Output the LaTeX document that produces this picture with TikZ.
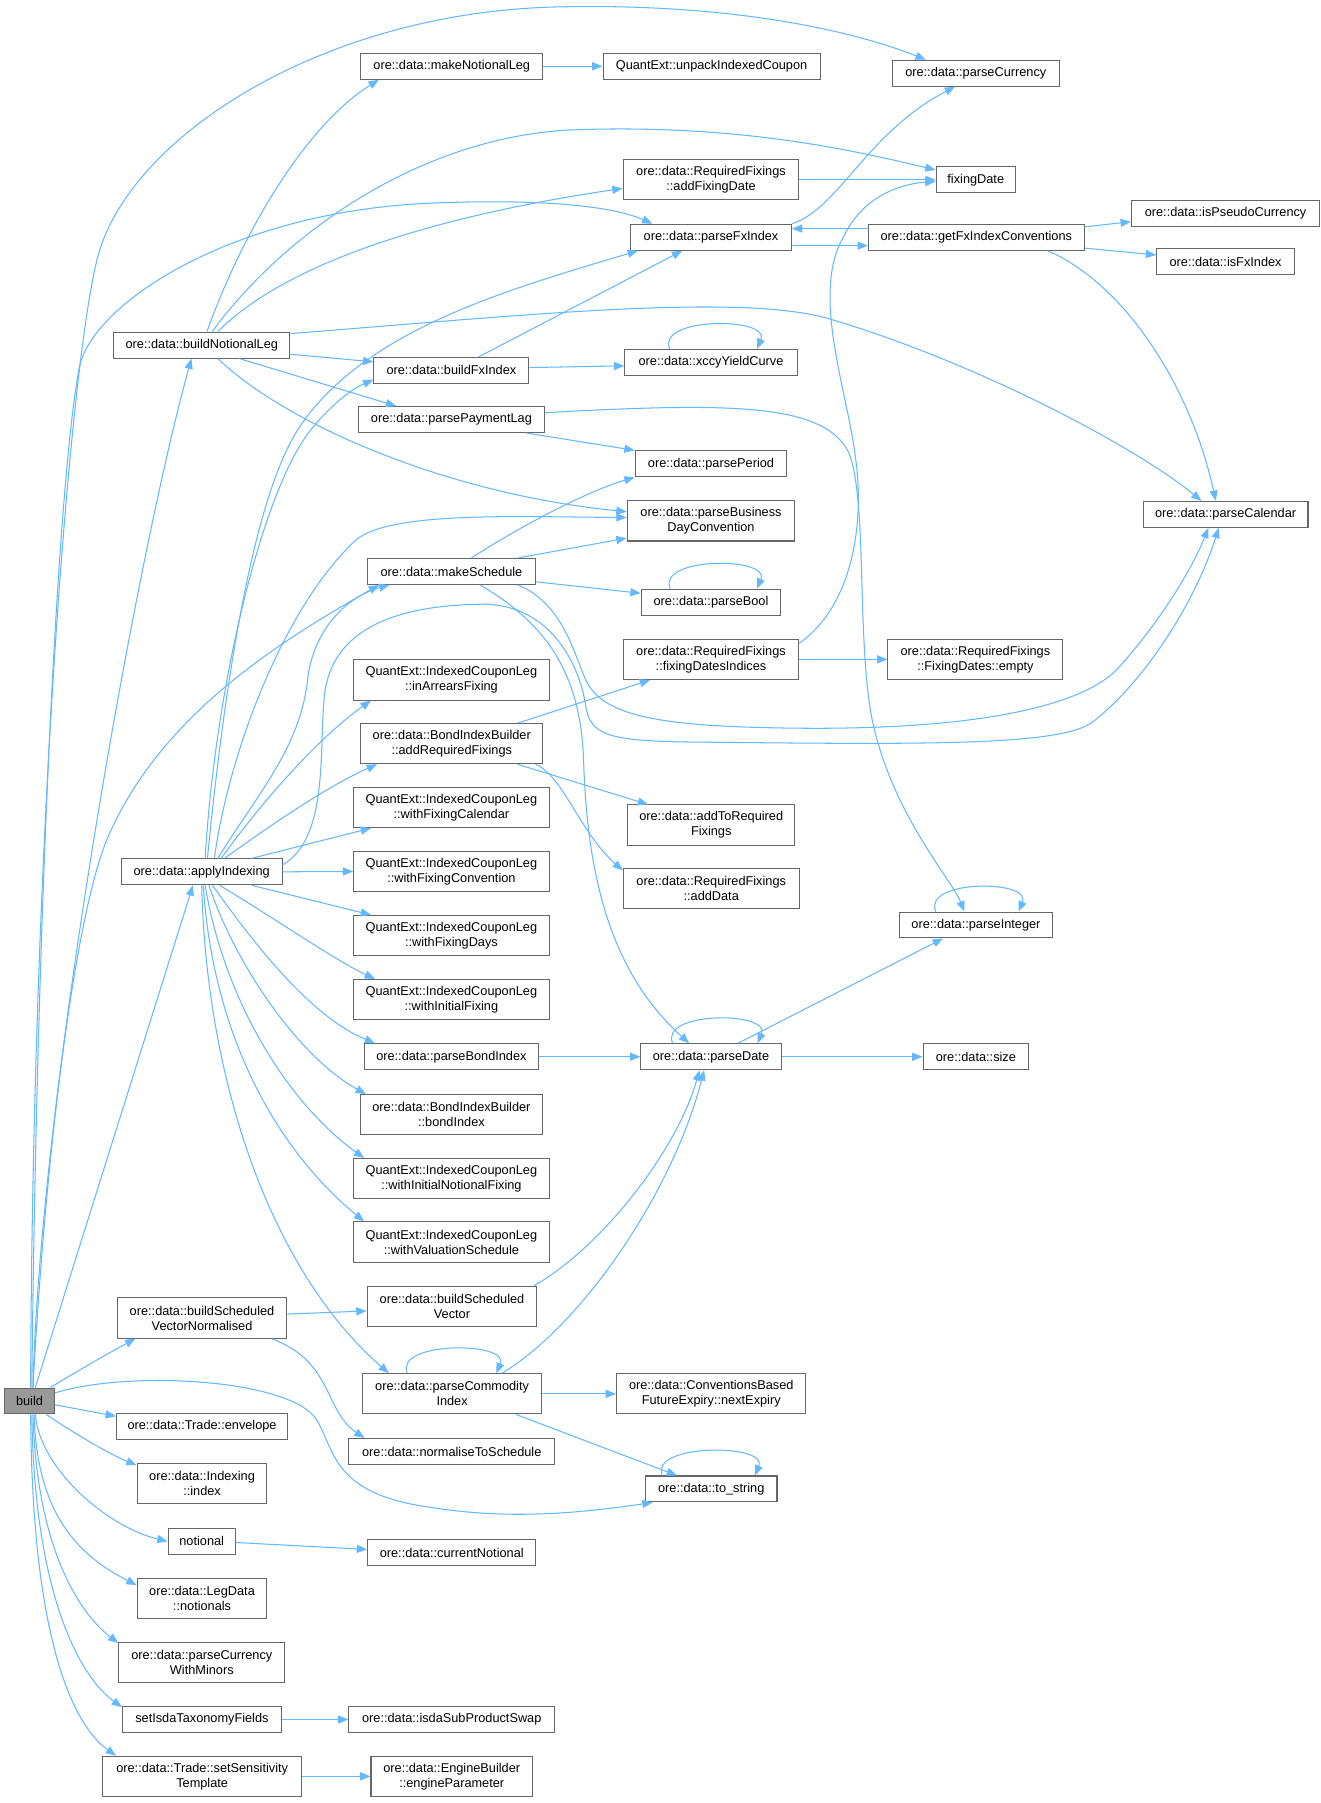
\documentclass[tikz,border=0pt]{standalone}
\usepackage{fontspec}
\setmainfont{Liberation Sans}
\usetikzlibrary{arrows.meta}
\definecolor{eblue}{HTML}{63B8FF}
\definecolor{bgray}{HTML}{666666}
\definecolor{rootfill}{HTML}{999999}
\begin{document}
\begin{tikzpicture}[x=1pt,y=-1pt,
 fnbox/.style={draw=bgray, line width=0.9pt, fill=white, inner sep=0pt, align=center, font=\fontsize{11.1}{13}\selectfont, minimum height=22.6pt},
 fnboxtall/.style={fnbox, minimum height=35pt},
 callline/.style={draw=eblue, line width=0.9pt, -{Triangle[length=9pt,width=7pt]}}]
\fill[white] (0,0) rectangle (1150,1569.7);
\useasboundingbox (0,0) rectangle (1150,1569.7);

% nodes
\node[fnbox, fill=rootfill, minimum width=43.5pt] (b) at (25.7,1219.7) {build};
\node[fnbox, minimum width=158.5pt] (mnl) at (393.3,57.7) {ore::data::makeNotionalLeg};
\node[fnbox, minimum width=189pt] (uic) at (619.5,57.7) {QuantExt::unpackIndexedCoupon};
\node[fnbox, minimum width=145pt] (pcur) at (849.5,63.7) {ore::data::parseCurrency};
\node[fnboxtall, minimum width=153pt] (afd) at (619,156.5) {ore::data::RequiredFixings\\::addFixingDate};
\node[fnbox, minimum width=69pt] (fd) at (849.5,156.5) {fixingDate};
\node[fnbox, minimum width=140pt] (pfx) at (619,206.5) {ore::data::parseFxIndex};
\node[fnbox, minimum width=188pt] (gfx) at (850,206.5) {ore::data::getFxIndexConventions};
\node[fnbox, minimum width=164pt] (ipc) at (1067,185.5) {ore::data::isPseudoCurrency};
\node[fnbox, minimum width=120pt] (ifx) at (1067,228) {ore::data::isFxIndex};
\node[fnbox, minimum width=153.5pt] (bnl) at (175.7,300.4) {ore::data::buildNotionalLeg};
\node[fnbox, minimum width=135pt] (bfx) at (393,322.5) {ore::data::buildFxIndex};
\node[fnbox, minimum width=150pt] (xyc) at (619,315.5) {ore::data::xccyYieldCurve};
\node[fnbox, minimum width=162.5pt] (ppl) at (393,365.3) {ore::data::parsePaymentLag};
\node[fnbox, minimum width=132pt] (pper) at (619,403.8) {ore::data::parsePeriod};
\node[fnboxtall, minimum width=146pt] (pbdc) at (619,453.5) {ore::data::parseBusiness\\DayConvention};
\node[fnbox, minimum width=143.5pt] (pcal) at (1067,447.8) {ore::data::parseCalendar};
\node[fnbox, minimum width=146pt] (ms) at (393,497.5) {ore::data::makeSchedule};
\node[fnbox, minimum width=121.5pt] (pbool) at (619,524.3) {ore::data::parseBool};
\node[fnboxtall, minimum width=153pt] (fdi) at (619,574) {ore::data::RequiredFixings\\::fixingDatesIndices};
\node[fnboxtall, minimum width=152.4pt] (fde) at (849.2,574) {ore::data::RequiredFixings\\::FixingDates::empty};
\node[fnboxtall, minimum width=170pt] (iaf) at (393,592) {QuantExt::IndexedCouponLeg\\::inArrearsFixing};
\node[fnboxtall, minimum width=158.6pt] (arf) at (393.3,647.5) {ore::data::BondIndexBuilder\\::addRequiredFixings};
\node[fnboxtall, minimum width=145.6pt] (atrf) at (619.2,718.3) {ore::data::addToRequired\\Fixings};
\node[fnboxtall, minimum width=170pt] (wfc) at (393,703) {QuantExt::IndexedCouponLeg\\::withFixingCalendar};
\node[fnbox, minimum width=140pt] (ai) at (175.6,759) {ore::data::applyIndexing};
\node[fnboxtall, minimum width=170pt] (wfconv) at (393,758.7) {QuantExt::IndexedCouponLeg\\::withFixingConvention};
\node[fnboxtall, minimum width=153pt] (ad) at (619.2,773.8) {ore::data::RequiredFixings\\::addData};
\node[fnbox, minimum width=133.4pt] (pint) at (849.7,805.3) {ore::data::parseInteger};
\node[fnboxtall, minimum width=170pt] (wfd) at (393,814.5) {QuantExt::IndexedCouponLeg\\::withFixingDays};
\node[fnboxtall, minimum width=170pt] (wif) at (393,870.3) {QuantExt::IndexedCouponLeg\\::withInitialFixing};
\node[fnbox, minimum width=152pt] (pbi) at (393,920) {ore::data::parseBondIndex};
\node[fnbox, minimum width=122pt] (pd) at (619,920) {ore::data::parseDate};
\node[fnbox, minimum width=92pt] (sz) at (849.6,920) {ore::data::size};
\node[fnboxtall, minimum width=158pt] (bi) at (393,970.5) {ore::data::BondIndexBuilder\\::bondIndex};
\node[fnboxtall, minimum width=170pt] (winf) at (393,1026.1) {QuantExt::IndexedCouponLeg\\::withInitialNotionalFixing};
\node[fnboxtall, minimum width=170pt] (wvs) at (393,1081.3) {QuantExt::IndexedCouponLeg\\::withValuationSchedule};
\node[fnboxtall, minimum width=147.7pt] (bsvn) at (175.9,1147.5) {ore::data::buildScheduled\\VectorNormalised};
\node[fnboxtall, minimum width=147.8pt] (bsv) at (393.5,1137.3) {ore::data::buildScheduled\\Vector};
\node[fnboxtall, minimum width=156pt] (pci) at (393.6,1213.5) {ore::data::parseCommodity\\Index};
\node[fnboxtall, minimum width=164.8pt] (nxe) at (619.2,1213.5) {ore::data::ConventionsBased\\FutureExpiry::nextExpiry};
\node[fnbox, minimum width=149pt] (env) at (175.9,1241.5) {ore::data::Trade::envelope};
\node[fnbox, minimum width=179pt] (nts) at (393.3,1263.7) {ore::data::normaliseToSchedule};
\node[fnboxtall, minimum width=113pt] (idx) at (175.9,1291.5) {ore::data::Indexing\\::index};
\node[fnbox, minimum width=114.5pt] (tos) at (619.2,1296.3) {ore::data::to\_string};
\node[fnbox, minimum width=58.4pt] (ntl) at (175.6,1341.9) {notional};
\node[fnbox, minimum width=146.6pt] (cn) at (393.3,1351.9) {ore::data::currentNotional};
\node[fnboxtall, minimum width=113pt] (lgn) at (175.9,1391.5) {ore::data::LegData\\::notionals};
\node[fnboxtall, minimum width=144.3pt] (pcwm) at (175.7,1447.5) {ore::data::parseCurrency\\WithMinors};
\node[fnbox, minimum width=138.4pt] (sitf) at (175.8,1497) {setIsdaTaxonomyFields};
\node[fnbox, minimum width=179pt] (isps) at (393.3,1497) {ore::data::isdaSubProductSwap};
\node[fnboxtall, minimum width=173.5pt] (sst) at (176,1546.5) {ore::data::Trade::setSensitivity\\Template};
\node[fnboxtall, minimum width=140.6pt] (ep) at (393.3,1546.5) {ore::data::EngineBuilder\\::engineParameter};

% edges from build
\draw[callline] ([xshift=1pt]b.north) .. controls (28,750) and (60,320) .. (85,224) .. controls (112,120) and (280,10) .. (487,6) .. controls (620,3) and (730,22) .. ([xshift=-43.5pt]pcur.north);
\draw[callline] ([xshift=2pt]b.north) .. controls (32,800) and (50,420) .. (69,320) .. controls (80,265) and (200,185) .. (372,177) .. controls (460,173) and (530,178) .. ([xshift=-51pt]pfx.north);
\draw[callline] ([xshift=3pt]b.north) .. controls (35,950) and (120,480) .. ([xshift=-9pt]bnl.south);
\draw[callline] ([xshift=5pt]b.north) -- ([xshift=-7.6pt]ai.south);
\draw[callline] ([xshift=3pt]b.north) .. controls (40,1000) and (65,800) .. (93,731) .. controls (140,620) and (250,555) .. ([xshift=-63pt]ms.south);
\draw[callline] ([xshift=-4pt]b.north east) .. controls (70,1192) and (100,1175) .. ([xshift=-58pt]bsvn.south);
\draw[callline] ([yshift=-3.3pt]b.east) -- ([yshift=8.5pt]env.west);
\draw[callline] ([yshift=7pt]b.east) .. controls (110,1193) and (250,1200) .. (275,1235) .. controls (292,1262) and (288,1300) .. (373,1312) .. controls (440,1323) and (500,1318) .. ([xshift=-51pt]tos.south);
\draw[callline] ([xshift=14.7pt]b.south) .. controls (60,1245) and (95,1266) .. ([yshift=-2pt]idx.north west);
\draw[callline] ([xshift=5pt]b.south) .. controls (35,1280) and (95,1330) .. (ntl.west);
\draw[callline] ([xshift=4pt]b.south) .. controls (32,1320) and (70,1355) .. ([yshift=11.5pt]lgn.west);
\draw[callline] ([xshift=3pt]b.south) .. controls (32,1350) and (70,1405) .. ([yshift=-1pt]pcwm.north west);
\draw[callline] ([xshift=2pt]b.south) .. controls (30,1390) and (70,1460) .. ([yshift=-1pt]sitf.north west);
\draw[callline] ([xshift=1pt]b.south) .. controls (28,1440) and (68,1505) .. ([xshift=-75pt]sst.north);

% buildNotionalLeg
\draw[callline] ([xshift=4.5pt]bnl.north) .. controls (210,205) and (265,110) .. ([xshift=-63.5pt]mnl.south);
\draw[callline] ([xshift=14pt]bnl.north) .. controls (250,228) and (380,188) .. ([yshift=-7.5pt]afd.west);
\draw[callline] ([xshift=9pt]bnl.north) .. controls (250,200) and (370,118) .. (500,113) .. controls (640,108) and (740,130) .. ([yshift=8.5pt]fd.west);
\draw[callline] ([yshift=10pt]bnl.east) .. controls (450,275) and (640,255) .. (720,277) .. controls (850,315) and (990,390) .. ([xshift=-21pt]pcal.north);
\draw[callline] ([yshift=-8pt]bnl.east) -- ([yshift=7.5pt]bfx.west);
\draw[callline] ([xshift=32.6pt]bnl.south) -- ([xshift=-48pt]ppl.north);
\draw[callline] ([xshift=14pt]bnl.south) .. controls (250,370) and (390,430) .. ([yshift=8pt]pbdc.west);

% buildFxIndex, parsePaymentLag
\draw[callline] ([xshift=23.6pt]bfx.north) -- ([xshift=-25pt]pfx.south);
\draw[callline] ([yshift=2.5pt]bfx.east) -- ([yshift=-3pt]xyc.west);
\draw[callline] ([xshift=65.6pt]ppl.south) -- (pper.north west);
\draw[callline] ([yshift=6pt]ppl.east) .. controls (640,350) and (715,352) .. (738,392) .. controls (756,430) and (745,560) .. (760,630) .. controls (778,710) and (828,765) .. ([xshift=-10pt]pint.north);

% top right group
\draw[callline] (mnl.east) -- (uic.west);
\draw[callline] (afd.east) -- (fd.west);
\draw[callline] (pfx.north east) .. controls (730,182) and (755,115) .. ([xshift=-18pt]pcur.south);
\draw[callline] ([yshift=-7.4pt]pfx.east) -- ([yshift=-7.4pt]gfx.west);
\draw[callline] ([yshift=7.5pt]gfx.west) -- ([yshift=7.5pt]pfx.east);
\draw[callline] ([yshift=9pt]gfx.east) -- ([yshift=-7.5pt]ipc.west);
\draw[callline] ([yshift=-9.5pt]gfx.east) -- ([yshift=6pt]ifx.west);
\draw[callline] ([xshift=62pt]gfx.south) .. controls (975,245) and (1035,330) .. ([xshift=-8.5pt]pcal.north);
\draw[callline] ([yshift=14pt]fdi.east) .. controls (745,525) and (752,450) .. (745,400) .. controls (738,340) and (705,255) .. (735,205) .. controls (752,170) and (785,160) .. ([yshift=-1.5pt]fd.west);
\draw[callline] (fdi.east) -- (fde.west);

% makeSchedule
\draw[callline] ([xshift=17.4pt]ms.north) .. controls (450,460) and (510,428) .. (pper.south west);
\draw[callline] ([xshift=57.8pt]ms.north) -- ([yshift=-15pt]pbdc.west);
\draw[callline] ([yshift=-9pt]ms.east) -- ([yshift=7.8pt]pbool.west);
\draw[callline] ([xshift=57.8pt]ms.south) .. controls (490,525) and (500,570) .. (510,592) .. controls (525,625) and (580,633) .. (700,634) .. controls (850,635) and (945,615) .. (975,580) .. controls (1015,535) and (1040,490) .. ([xshift=-15pt]pcal.south);
\draw[callline] ([xshift=25pt]ms.south) .. controls (470,540) and (505,580) .. (508,660) .. controls (511,760) and (530,845) .. ([xshift=-19pt]pd.north);

% applyIndexing
\draw[callline] ([xshift=14pt]ai.north) .. controls (225,690) and (262,650) .. (268,590) .. controls (273,550) and (300,520) .. ([xshift=-54pt]ms.south);
\draw[callline] ([yshift=6pt]ai.east) .. controls (285,730) and (278,660) .. (282,610) .. controls (286,550) and (340,527) .. (420,526) .. controls (480,526) and (505,580) .. (510,615) .. controls (514,640) and (530,645) .. (600,646) .. controls (800,648) and (925,650) .. (952,628) .. controls (1000,590) and (1042,520) .. ([xshift=-6pt]pcal.south);
\draw[callline] ([xshift=11pt]ai.north) .. controls (200,650) and (250,525) .. (310,470) .. controls (340,445) and (450,450) .. ([yshift=3pt]pbdc.west);
\draw[callline] ([xshift=5pt]ai.north) .. controls (195,600) and (220,430) .. (262,370) .. controls (320,285) and (450,250) .. ([xshift=-63.6pt]pfx.south);
\draw[callline] ([xshift=3pt]ai.north) .. controls (188,590) and (230,425) .. (270,375) .. controls (290,350) and (308,338) .. ([yshift=-8pt]bfx.west);
\draw[callline] ([xshift=17pt]ai.north) .. controls (230,695) and (280,640) .. ([xshift=-70pt]iaf.south);
\draw[callline] ([xshift=20pt]ai.north) .. controls (240,715) and (290,682) .. ([xshift=-65pt]arf.south);
\draw[callline] ([xshift=43.6pt]ai.north) -- ([xshift=-70pt]wfc.south);
\draw[callline] (ai.east) -- (wfconv.west);
\draw[callline] ([xshift=43.6pt]ai.south) -- ([xshift=-70pt]wfd.north);
\draw[callline] ([xshift=15.6pt]ai.south) .. controls (240,800) and (290,835) .. ([xshift=-66.5pt]wif.north);
\draw[callline] ([xshift=9.4pt]ai.south) .. controls (220,820) and (270,885) .. ([xshift=-66.5pt]pbi.north);
\draw[callline] ([xshift=6.3pt]ai.south) .. controls (205,840) and (260,920) .. ([xshift=-74.4pt]bi.north);
\draw[callline] ([xshift=3pt]ai.south) .. controls (195,870) and (250,960) .. ([xshift=-76pt]winf.north);
\draw[callline] ([xshift=1.4pt]ai.south) .. controls (185,900) and (240,1000) .. ([xshift=-76pt]wvs.north);
\draw[callline] (ai.south) .. controls (180,950) and (240,1110) .. ([xshift=-55pt]pci.north);

% addRequiredFixings
\draw[callline] ([xshift=57.5pt]arf.north) -- ([xshift=-53pt]fdi.south);
\draw[callline] ([xshift=57.5pt]arf.south) -- ([xshift=-55pt]atrf.north);
\draw[callline] ([xshift=73pt]arf.south) .. controls (490,675) and (505,725) .. ([yshift=16pt]ad.west);

% parseDate group
\draw[callline] (pbi.east) -- (pd.west);
\draw[callline] (pd.east) -- (sz.west);
\draw[callline] ([xshift=23.5pt]pd.north) -- ([xshift=-28.7pt]pint.south);

% lower part
\draw[callline] ([yshift=3.5pt]bsvn.east) -- ([yshift=-4pt]bsv.west);
\draw[callline] ([xshift=60.4pt]bsvn.south) .. controls (290,1185) and (282,1228) .. ([xshift=-76pt]nts.north);
\draw[callline] ([xshift=71.5pt]bsv.north) .. controls (525,1085) and (590,1000) .. ([xshift=-10pt]pd.south);
\draw[callline] ([xshift=43.4pt]pci.north) .. controls (505,1155) and (585,1040) .. ([xshift=-6pt]pd.south);
\draw[callline] (pci.east) -- (nxe.west);
\draw[callline] ([xshift=55.7pt]pci.south) -- ([xshift=-29.8pt]tos.north);
\draw[callline] ([yshift=-1pt]ntl.east) -- ([yshift=3pt]cn.west);
\draw[callline] (sitf.east) -- (isps.west);
\draw[callline] (sst.east) -- (ep.west);

% self loops
\draw[callline] ([xshift=-36pt]xyc.north) .. controls +(-12,-28) and +(12,-28) .. ([xshift=40pt]xyc.north);
\draw[callline] ([xshift=-35.5pt]pbool.north) .. controls +(-12,-28) and +(12,-28) .. ([xshift=40pt]pbool.north);
\draw[callline] ([xshift=-33.4pt]pd.north) .. controls +(-12,-28) and +(12,-28) .. ([xshift=40.5pt]pd.north);
\draw[callline] ([xshift=-35pt]pint.north) .. controls +(-12,-28) and +(12,-28) .. ([xshift=37pt]pint.north);
\draw[callline] ([xshift=-39pt]pci.north) .. controls +(-12,-28) and +(12,-28) .. ([xshift=38.5pt]pci.north);
\draw[callline] ([xshift=-42.5pt]tos.north) .. controls +(-12,-28) and +(12,-28) .. ([xshift=38pt]tos.north);
\end{tikzpicture}
\end{document}
